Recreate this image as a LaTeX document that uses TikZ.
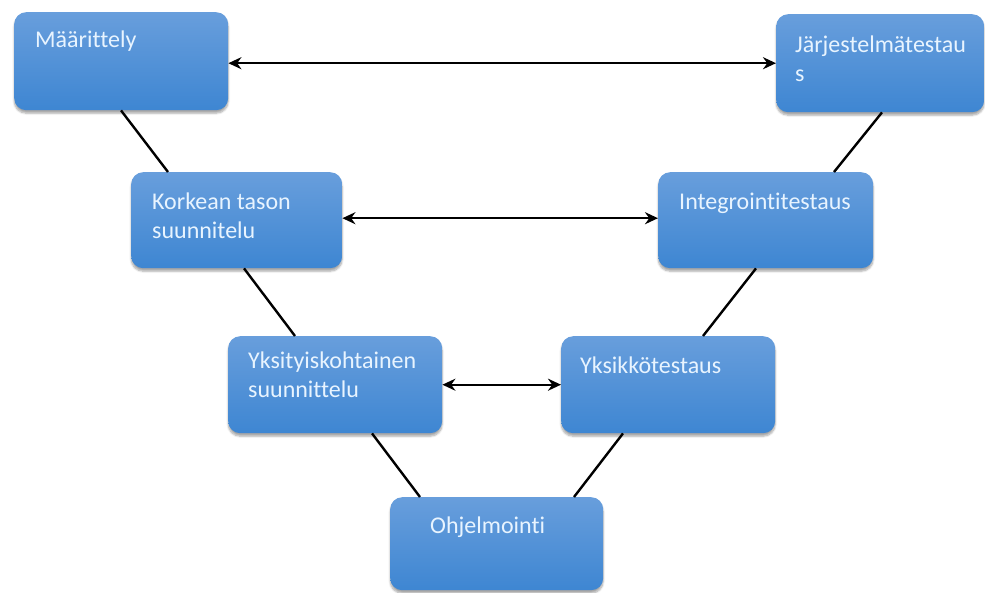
\documentclass[tikz,border=0pt]{standalone}
\usepackage{fontspec}
\setmainfont[Ligatures=NoCommon]{Carlito}
\usetikzlibrary{arrows.meta,shadows.blur}

\definecolor{boxtop}{RGB}{104,158,220}
\definecolor{boxbottom}{RGB}{62,134,210}
\definecolor{boxtextcol}{RGB}{232,244,255}

% invisible strut fixing the first baseline below the label's top edge
\newcommand\firstline{\rule{0pt}{22pt}}

\tikzset{
  phase/.style={
    anchor=north west, rectangle, rounded corners=12pt,
    top color=boxtop, bottom color=boxbottom, draw=none,
    blur shadow={shadow xshift=0pt, shadow yshift=-3pt,
                 shadow blur steps=6, shadow opacity=35}
  },
  phasetext/.style={
    anchor=north west, inner sep=0pt, align=left,
    font=\fontsize{24}{29}\selectfont, text=boxtextcol
  },
  link/.style={line width=2.4pt, black},
  pair/.style={line width=2.4pt, black,
    {Stealth[length=13pt,width=12pt]}-{Stealth[length=13pt,width=12pt]}}
}

\begin{document}
\begin{tikzpicture}[x=1pt,y=-1pt]
  \useasboundingbox (0,0) rectangle (985,592);

  % left branch: specification and design
  \node[phase, minimum width=214pt, minimum height=98pt,
        label={[phasetext, xshift=21pt, yshift=-13pt]north west:\firstline Määrittely}]
        (maar) at (14,12) {};
  \node[phase, minimum width=211pt, minimum height=96pt,
        label={[phasetext, xshift=21pt, yshift=-15pt]north west:\firstline Korkean tason\\suunnitelu}]
        (korkea) at (131,172) {};
  \node[phase, minimum width=214pt, minimum height=97pt,
        label={[phasetext, xshift=20pt, yshift=-10pt]north west:\firstline Yksityiskohtainen\\suunnittelu}]
        (yksit) at (228,336) {};

  % bottom: implementation
  \node[phase, minimum width=213pt, minimum height=93pt,
        label={[phasetext, xshift=40pt, yshift=-14pt]north west:\firstline Ohjelmointi}]
        (ohjel) at (390,497) {};

  % right branch: testing
  \node[phase, minimum width=214pt, minimum height=97pt,
        label={[phasetext, xshift=19pt, yshift=-15pt]north west:\firstline Yksikkötestaus}]
        (yksik) at (561,336) {};
  \node[phase, minimum width=215pt, minimum height=96pt,
        label={[phasetext, xshift=21pt, yshift=-15pt]north west:\firstline Integrointitestaus}]
        (integ) at (658,172) {};
  \node[phase, minimum width=208pt, minimum height=98pt,
        label={[phasetext, xshift=19pt, yshift=-16pt]north west:\firstline Järjestelmätestau\\s}]
        (jarj) at (776,14) {};

  % V-shaped chain
  \draw[link] ([xshift=107pt]maar.south west) -- ([xshift=37pt]korkea.north west);
  \draw[link] ([xshift=113pt]korkea.south west) -- ([xshift=67pt]yksit.north west);
  \draw[link] ([xshift=144pt]yksit.south west) -- ([xshift=30pt]ohjel.north west);
  \draw[link] ([xshift=62pt]yksik.south west) -- ([xshift=184pt]ohjel.north west);
  \draw[link] ([xshift=98pt]integ.south west) -- ([xshift=142pt]yksik.north west);
  \draw[link] ([xshift=106pt]jarj.south west) -- ([xshift=176pt]integ.north west);

  % correspondences between levels
  \draw[pair] (jarj.west -| maar.east) -- (jarj.west);
  \draw[pair] ([yshift=2pt]korkea.east) -- ([yshift=2pt]integ.west);
  \draw[pair] (yksit.east) -- (yksik.west);
\end{tikzpicture}
\end{document}
